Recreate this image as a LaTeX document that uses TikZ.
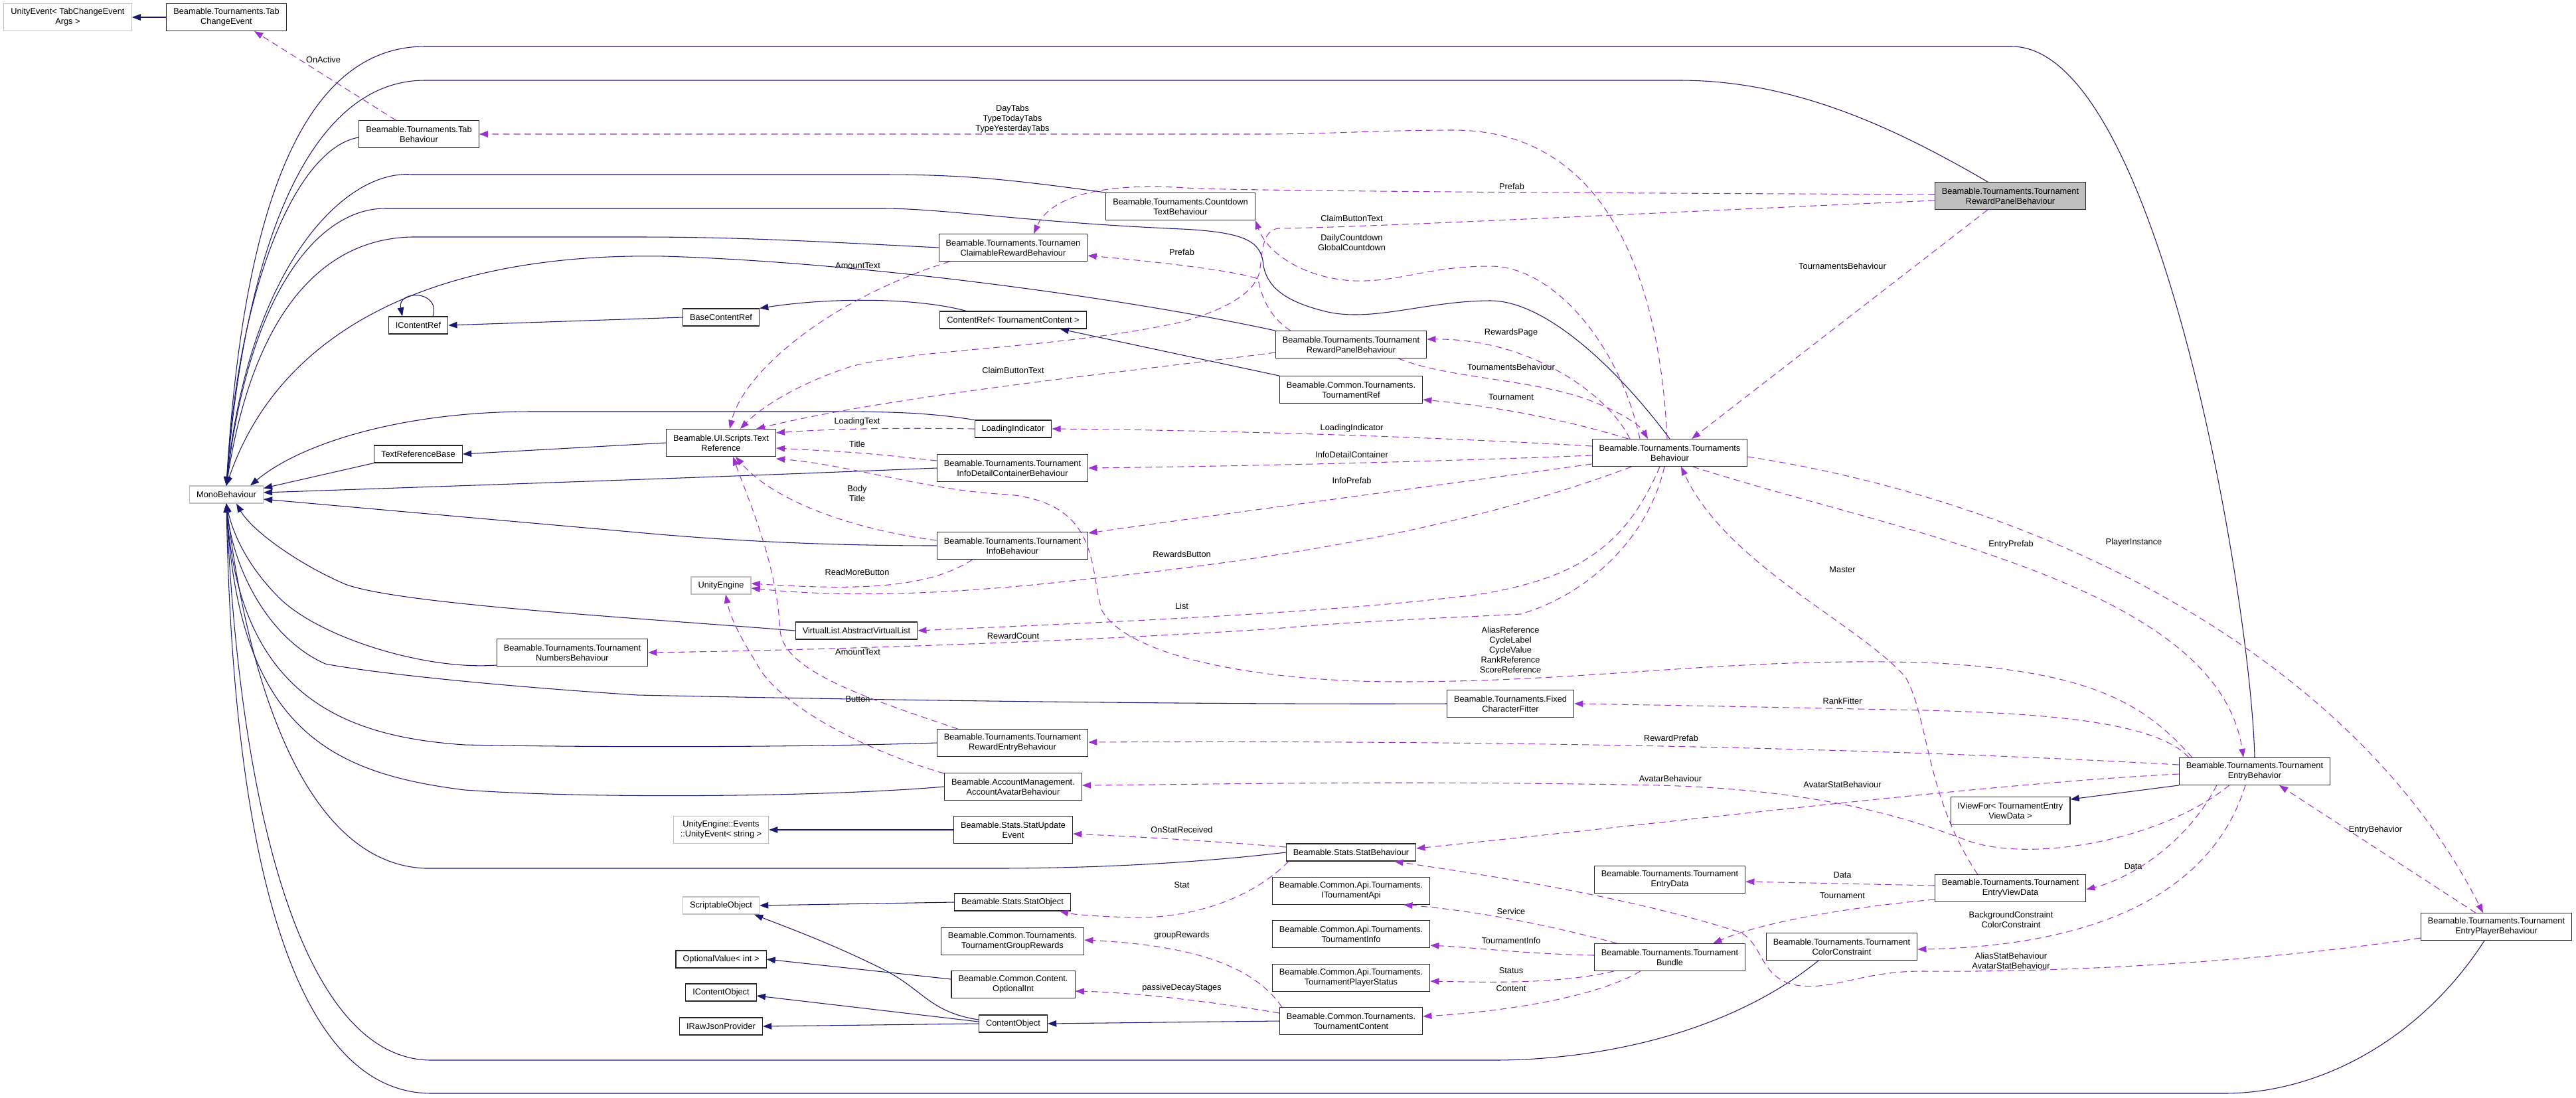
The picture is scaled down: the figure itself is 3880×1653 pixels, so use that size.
\documentclass[tikz,border=0pt]{standalone}
\usepackage{fontspec}
\setmainfont{Liberation Sans}
\usetikzlibrary{arrows.meta, calc}
\definecolor{inhblue}{RGB}{25,25,112}
\definecolor{usepurple}{RGB}{154,50,205}
\definecolor{extgray}{RGB}{191,191,191}
\newcommand{\dxfont}{\fontsize{9.1}{10.7}\selectfont}
\tikzset{
  >={Triangle[length=0.33cm, width=0.24cm]},
  cls/.style={draw=black!85, line width=0.8pt, fill=white, align=center,
              inner xsep=7.5pt, inner ysep=1pt, minimum height=0.65cm,
              font=\dxfont},
  twol/.style={minimum height=1.02cm},
  extcls/.style={cls, draw=extgray},
  maincls/.style={cls, fill=extgray},
  inh/.style={->, inhblue, line width=0.75pt},
  usedash/.style={->, usepurple, line width=0.75pt, dash pattern=on 7pt off 4.5pt},
  lbl/.style={font=\dxfont, align=center, inner sep=0pt},
}

\begin{document}
\begin{tikzpicture}[x=0.025cm, y=-0.025cm]
  \useasboundingbox (0,0) rectangle (3880,1653);

  % ---- classes, left columns ----
  \node[extcls, twol] (ueTab) at (102,26) {UnityEvent< TabChangeEvent\\Args >};
  \node[cls, twol] (tabEvt) at (341,26) {Beamable.Tournaments.Tab\\ChangeEvent};
  \node[cls, twol] (tabBeh) at (631,202) {Beamable.Tournaments.Tab\\Behaviour};
  \node[cls] (icref) at (630,490) {IContentRef};
  \node[extcls] (mono) at (341,745) {MonoBehaviour};
  \node[cls] (trBase) at (630,684) {TextReferenceBase};
  \node[cls, twol] (numBeh) at (862,983) {Beamable.Tournaments.Tournament\\NumbersBehaviour};
  \node[cls] (baseRef) at (1086,478) {BaseContentRef};
  \node[cls, twol] (textRef) at (1086,667) {Beamable.UI.Scripts.Text\\Reference};
  \node[extcls] (unityEng) at (1086,882) {UnityEngine};
  \node[cls] (vlist) at (1290,950) {VirtualList.AbstractVirtualList};
  \node[extcls, twol] (ueStr) at (1086,1250) {UnityEngine::Events\\::UnityEvent< string >};
  \node[extcls] (scrObj) at (1086,1364) {ScriptableObject};
  \node[cls] (optVal) at (1086,1445) {OptionalValue< int >};
  \node[cls] (icObj) at (1086,1495) {IContentObject};
  \node[cls] (iRaw) at (1086,1546) {IRawJsonProvider};

  % ---- classes, middle columns ----
  \node[cls, twol] (claim) at (1526,373) {Beamable.Tournaments.Tournamen\\ClaimableRewardBehaviour};
  \node[cls, twol] (countdown) at (1778,311) {Beamable.Tournaments.Countdown\\TextBehaviour};
  \node[cls] (cref) at (1526,482) {ContentRef< TournamentContent >};
  \node[cls] (loading) at (1526,646) {LoadingIndicator};
  \node[cls, twol] (infoDet) at (1525,705) {Beamable.Tournaments.Tournament\\InfoDetailContainerBehaviour};
  \node[cls, twol] (infoBeh) at (1525,822) {Beamable.Tournaments.Tournament\\InfoBehaviour};
  \node[cls, twol] (rewEntry) at (1525,1119) {Beamable.Tournaments.Tournament\\RewardEntryBehaviour};
  \node[cls, twol] (avatar) at (1526,1185) {Beamable.AccountManagement.\\AccountAvatarBehaviour};
  \node[cls, twol] (statUpd) at (1526,1250) {Beamable.Stats.StatUpdate\\Event};
  \node[cls] (statObj) at (1525,1359) {Beamable.Stats.StatObject};
  \node[cls, twol] (grpRew) at (1525,1418) {Beamable.Common.Tournaments.\\TournamentGroupRewards};
  \node[cls, twol] (optInt) at (1526,1483) {Beamable.Common.Content.\\OptionalInt};
  \node[cls] (cObj) at (1526,1542) {ContentObject};
  \node[cls, twol] (panelB) at (2035,519) {Beamable.Tournaments.Tournament\\RewardPanelBehaviour};
  \node[cls, twol] (tRef) at (2035,587) {Beamable.Common.Tournaments.\\TournamentRef};
  \node[cls] (statBeh) at (2035,1284) {Beamable.Stats.StatBehaviour};
  \node[cls, twol] (iApi) at (2035,1342) {Beamable.Common.Api.Tournaments.\\ITournamentApi};
  \node[cls, twol] (tInfo) at (2035,1407) {Beamable.Common.Api.Tournaments.\\TournamentInfo};
  \node[cls, twol] (tStatus) at (2035,1473) {Beamable.Common.Api.Tournaments.\\TournamentPlayerStatus};
  \node[cls, twol] (tContent) at (2035,1538) {Beamable.Common.Tournaments.\\TournamentContent};
  \node[cls, twol] (fitter) at (2275,1060) {Beamable.Tournaments.Fixed\\CharacterFitter};
  \node[cls, twol] (tBeh) at (2515,682) {Beamable.Tournaments.Tournaments\\Behaviour};
  \node[cls, twol] (entryData) at (2515,1325) {Beamable.Tournaments.Tournament\\EntryData};
  \node[cls, twol] (bundle) at (2515,1442) {Beamable.Tournaments.Tournament\\Bundle};

  % ---- classes, right columns ----
  \node[cls, twol] (colorC) at (2774,1426) {Beamable.Tournaments.Tournament\\ColorConstraint};
  \node[maincls, twol] (panelA) at (3028,295) {Beamable.Tournaments.Tournament\\RewardPanelBehaviour};
  \node[cls, twol] (viewFor) at (3028,1221) {IViewFor< TournamentEntry\\ViewData >};
  \node[cls, twol] (viewData) at (3028,1338) {Beamable.Tournaments.Tournament\\EntryViewData};
  \node[cls, twol] (entryB) at (3396,1162) {Beamable.Tournaments.Tournament\\EntryBehavior};
  \node[cls, twol] (playerB) at (3760,1396) {Beamable.Tournaments.Tournament\\EntryPlayerBehaviour};

  % ---- edge labels ----
  \node[lbl] (lOnActive) at (487,90) {OnActive};
  \node[lbl] (lDayTabs) at (1525,179) {DayTabs\\TypeTodayTabs\\TypeYesterdayTabs};
  \node[lbl] (lPrefabA) at (2277,281) {Prefab};
  \node[lbl] (lClaimA) at (2036,329) {ClaimButtonText};
  \node[lbl] (lCountdown) at (2036,365) {DailyCountdown\\GlobalCountdown};
  \node[lbl] (lPrefabB) at (1780,380) {Prefab};
  \node[lbl] (lAmountA) at (1292,400) {AmountText};
  \node[lbl] (lTBehA) at (2775,401) {TournamentsBehaviour};
  \node[lbl] (lRewardsPage) at (2276,501) {RewardsPage};
  \node[lbl] (lTBehB) at (2276,553) {TournamentsBehaviour};
  \node[lbl] (lClaimB) at (1526,558) {ClaimButtonText};
  \node[lbl] (lTournamentA) at (2276,598) {Tournament};
  \node[lbl] (lLoadingText) at (1291,635) {LoadingText};
  \node[lbl] (lLoading) at (2036,645) {LoadingIndicator};
  \node[lbl] (lTitle) at (1291,669) {Title};
  \node[lbl] (lInfoDet) at (2036,685) {InfoDetailContainer};
  \node[lbl] (lInfoPrefab) at (2036,724) {InfoPrefab};
  \node[lbl] (lBodyTitle) at (1291,743) {Body\\Title};
  \node[lbl] (lEntryPrefab) at (3029,820) {EntryPrefab};
  \node[lbl] (lPlayerInst) at (3214,817) {PlayerInstance};
  \node[lbl] (lRewardsBtn) at (1780,835) {RewardsButton};
  \node[lbl] (lMaster) at (2775,858) {Master};
  \node[lbl] (lReadMore) at (1291,862) {ReadMoreButton};
  \node[lbl] (lList) at (1780,913) {List};
  \node[lbl] (lRewardCount) at (1526,958) {RewardCount};
  \node[lbl] (lRefs) at (2275,979) {AliasReference\\CycleLabel\\CycleValue\\RankReference\\ScoreReference};
  \node[lbl] (lAmountB) at (1292,982) {AmountText};
  \node[lbl] (lButton) at (1292,1053) {Button};
  \node[lbl] (lRankFitter) at (2775,1056) {RankFitter};
  \node[lbl] (lRewardPrefab) at (2517,1112) {RewardPrefab};
  \node[lbl] (lAvatarBeh) at (2516,1173) {AvatarBehaviour};
  \node[lbl] (lAvatarStat) at (2775,1182) {AvatarStatBehaviour};
  \node[lbl] (lOnStat) at (1780,1250) {OnStatReceived};
  \node[lbl] (lEntryBeh) at (3578,1250) {EntryBehavior};
  \node[lbl] (lDataB) at (3213,1305) {Data};
  \node[lbl] (lDataA) at (2775,1318) {Data};
  \node[lbl] (lStat) at (1780,1333) {Stat};
  \node[lbl] (lTournamentB) at (2775,1349) {Tournament};
  \node[lbl] (lService) at (2276,1373) {Service};
  \node[lbl] (lConstraint) at (3029,1385) {BackgroundConstraint\\ColorConstraint};
  \node[lbl] (lGroupRew) at (1780,1409) {groupRewards};
  \node[lbl] (lTInfo) at (2276,1417) {TournamentInfo};
  \node[lbl] (lAliasStat) at (3029,1447) {AliasStatBehaviour\\AvatarStatBehaviour};
  \node[lbl] (lStatus) at (2276,1462) {Status};
  \node[lbl] (lPassive) at (1780,1488) {passiveDecayStages};
  \node[lbl] (lContent) at (2276,1489) {Content};

  % ---- inheritance ----
  \draw[inh] (tabEvt.west) -- (ueTab.east);
  \draw[inh] (baseRef.west) -- (icref.east);
  \draw[inh] ($(icref.north)+(22,0)$) .. controls +(12,-40) and +(-8,-40) .. ($(icref.north)+(-24,0)$);
  \draw[inh] ($(cref.north west)+(40,0)$) .. controls (1380,448) and (1250,448) .. (baseRef.north east);
  \draw[inh] (tRef.north west) -- ($(cref.south east)+(-40,0)$);
  \draw[inh] (textRef.west) -- (trBase.east);
  \draw[inh] (statUpd.west) -- (ueStr.east);
  \draw[inh] (statObj.west) -- (scrObj.east);
  \draw[inh] ($(cObj.west)+(0,-6)$) .. controls (1400,1525) and (1390,1490) .. (1330,1460)
    .. controls (1250,1420) and (1180,1395) .. ($(scrObj.south east)+(-8,0)$);
  \draw[inh] ($(optInt.west)+(0,-8)$) -- (optVal.east);
  \draw[inh] ($(cObj.west)+(0,-3)$) -- ($(icObj.east)+(0,5)$);
  \draw[inh] (cObj.west) -- (iRaw.east);
  \draw[inh] (tContent.west) -- (cObj.east);
  \draw[inh] (entryB.south west) -- ($(viewFor.north east)+(0,4)$);

  % ---- to MonoBehaviour, from above ----
  \draw[inh] (entryB.north) .. controls (3390,900) and (3250,70) .. (3030,70) -- (640,70)
    .. controls (450,70) and (365,330) .. (mono.north);
  \draw[inh] ($(panelA.north)+(-34,0)$) .. controls (2850,190) and (2700,121) .. (2530,121) -- (640,121)
    .. controls (470,121) and (370,360) .. (mono.north);
  \draw[inh] ($(tabBeh.west)+(0,5)$) .. controls (450,222) and (360,420) .. (mono.north);
  \draw[inh] (countdown.north west) .. controls (1520,270) and (1450,263) .. (1330,263) -- (620,263)
    .. controls (520,255) and (375,400) .. (mono.north);
  \draw[inh] (tBeh.north) .. controls (2440,560) and (2330,453) .. (2245,453)
    .. controls (2150,453) and (2070,485) .. (2000,470)
    .. controls (1950,458) and (1910,440) .. (1903,400)
    .. controls (1900,365) and (1880,350) .. (1780,345)
    .. controls (1550,335) and (1420,314) .. (1330,314) -- (580,314)
    .. controls (480,314) and (375,440) .. (mono.north);
  \draw[inh] (claim.west) .. controls (1200,362) and (1100,357) .. (960,357) -- (620,357)
    .. controls (480,360) and (380,480) .. (mono.north);
  \draw[inh] (panelB.north west) .. controls (1700,450) and (1300,395) .. (1000,386)
    .. controls (650,380) and (420,500) .. (mono.north);

  % ---- to MonoBehaviour, from the right ----
  \draw[inh] (loading.north west) .. controls (1400,622) and (1350,620) .. (1250,620) -- (800,620)
    .. controls (600,620) and (450,670) .. ($(mono.north east)+(-20,0)$);
  \draw[inh] (trBase.south west) -- ($(mono.north east)+(0,4)$);
  \draw[inh] (infoDet.west) .. controls (1100,718) and (800,728) .. ($(mono.east)+(0,-3)$);
  \draw[inh] (infoBeh.west) .. controls (1250,822) and (1100,815) .. (960,802) -- ($(mono.east)+(0,7)$);

  % ---- to MonoBehaviour, from below ----
  \draw[inh] (vlist.west) .. controls (950,930) and (600,910) .. (520,880)
    .. controls (450,850) and (380,800) .. ($(mono.south)+(15,0)$);
  \draw[inh] ($(numBeh.south west)+(0,-2)$) .. controls (640,1010) and (480,960) .. (420,900)
    .. controls (370,850) and (350,800) .. (mono.south);
  \draw[inh] (fitter.west) .. controls (1700,1062) and (1100,1050) .. (960,1047)
    .. controls (700,1030) and (540,1010) .. (490,1000)
    .. controls (400,960) and (350,850) .. (mono.south);
  \draw[inh] (rewEntry.west) .. controls (1200,1126) and (900,1126) .. (700,1122)
    .. controls (520,1110) and (360,1050) .. (mono.south);
  \draw[inh] (avatar.west) .. controls (1250,1200) and (900,1204) .. (700,1190)
    .. controls (500,1165) and (360,1100) .. (mono.south);
  \draw[inh] (statBeh.west) .. controls (1800,1300) and (1650,1308) .. (1500,1308) -- (640,1308)
    .. controls (450,1300) and (370,1000) .. (mono.south);
  \draw[inh] ($(colorC.south)+(-35,0)$) .. controls (2600,1560) and (2400,1597) .. (2250,1597) -- (650,1597)
    .. controls (450,1597) and (360,1200) .. (mono.south);
  \draw[inh] ($(playerB.south)+(-18,0)$) .. controls (3650,1560) and (3500,1647) .. (3350,1647) -- (650,1647)
    .. controls (430,1647) and (350,1250) .. (mono.south);

  % ---- usage, upper part ----
  \draw[usedash] ($(tabBeh.north west)+(56,0)$) -- ($(tabEvt.south)+(42,0)$);
  \draw[usedash] ($(tBeh.north)+(-4,0)$) .. controls (2500,420) and (2420,196) .. (2189,196)
    .. controls (2080,196) and (2000,202) .. (1900,202) -- (tabBeh.east);
  \draw[usedash] ($(panelA.west)+(0,-2)$) .. controls (2500,291) and (2000,289) .. (1800,284)
    .. controls (1650,272) and (1580,300) .. ($(claim.north)+(31,0)$);
  \draw[usedash] ($(panelA.west)+(0,7)$) .. controls (2500,320) and (2050,343) .. (1925,344)
    .. controls (1900,348) and (1902,380) .. (1897,410)
    .. controls (1890,440) and (1850,465) .. (1780,485)
    .. controls (1600,525) and (1380,525) .. (1282,552)
    .. controls (1210,575) and (1150,610) .. ($(textRef.north)+(29,0)$);
  \draw[usedash] ($(panelA.south)+(-34,0)$) -- ($(tBeh.north)+(33,0)$);
  \draw[usedash] ($(tBeh.north)+(-45,0)$) .. controls (2440,520) and (2340,401) .. (2245,401)
    .. controls (2150,401) and (2110,425) .. (2040,423)
    .. controls (1970,420) and (1910,385) .. (countdown.south east);
  \draw[usedash] ($(panelB.north west)+(23,0)$) .. controls (1915,480) and (1900,450) .. (1895,420)
    .. controls (1860,408) and (1750,395) .. ($(claim.east)+(0,12)$);
  \draw[usedash] ($(claim.south west)+(17,0)$) .. controls (1250,450) and (1120,560) .. ($(textRef.north)+(13,0)$);
  \draw[usedash] ($(panelB.west)+(0,12)$) .. controls (1700,560) and (1350,595) .. ($(textRef.north)+(53,0)$);
  \draw[usedash] ($(tBeh.north)+(-60,0)$) .. controls (2420,590) and (2300,510) .. ($(panelB.east)+(0,-8)$);
  \draw[usedash] ($(panelB.south east)+(-43,0)$) .. controls (2180,570) and (2300,570) .. (2389,601)
    .. controls (2440,620) and (2470,640) .. ($(tBeh.north)+(-33,0)$);
  \draw[usedash] ($(tBeh.north west)+(55,0)$) .. controls (2350,630) and (2250,612) .. ($(tRef.east)+(0,15)$);

  % ---- usage, around TournamentsBehaviour ----
  \draw[usedash] ($(tBeh.west)+(0,-10)$) .. controls (2100,655) and (1800,648) .. (loading.east);
  \draw[usedash] ($(tBeh.west)+(0,4)$) .. controls (2200,694) and (1900,702) .. (infoDet.east);
  \draw[usedash] ($(tBeh.south west)+(0,-4)$) .. controls (2100,740) and (1800,780) .. ($(infoBeh.north east)+(0,2)$);
  \draw[usedash] ($(tBeh.south west)+(60,0)$) .. controls (2200,800) and (1900,845) .. (1640,872)
    .. controls (1400,900) and (1250,898) .. ($(unityEng.east)+(0,4)$);
  \draw[usedash] ($(tBeh.south)+(-15,0)$) .. controls (2450,820) and (2380,870) .. (2230,895)
    .. controls (2000,925) and (1600,940) .. (vlist.east);
  \draw[usedash] ($(tBeh.south)+(-8,0)$) .. controls (2480,820) and (2380,900) .. (2290,925)
    .. controls (2200,930) and (2050,935) .. (1920,947)
    .. controls (1600,968) and (1200,980) .. (numBeh.east);
  \draw[usedash] ($(tBeh.east)+(0,6)$) .. controls (3100,760) and (3550,1000) .. ($(playerB.north)+(-20,0)$);
  \draw[usedash] ($(tBeh.south east)+(-83,0)$) .. controls (2850,800) and (3340,880) .. ($(entryB.north)+(-17,0)$);
  \draw[usedash] ($(viewData.north west)+(65,0)$) .. controls (2900,1200) and (2905,1080) .. (2870,1020)
    .. controls (2800,940) and (2600,850) .. ($(tBeh.south)+(17,0)$);

  % ---- usage, text references ----
  \draw[usedash] ($(infoDet.west)+(0,-11)$) .. controls (1300,682) .. ($(textRef.east)+(0,8)$);
  \draw[usedash] (loading.west) .. controls (1350,644) and (1250,646) .. ($(textRef.east)+(0,-15)$);
  \draw[usedash] ($(infoBeh.west)+(0,-8)$) .. controls (1300,800) and (1170,760) .. ($(textRef.south)+(22,0)$);
  \draw[usedash] ($(infoBeh.south west)+(54,0)$) .. controls (1400,885) and (1300,890) .. ($(unityEng.east)+(0,-3)$);
  \draw[usedash] ($(rewEntry.north west)+(32,0)$) .. controls (1300,1050) and (1180,1010) .. (1175,950)
    .. controls (1170,850) and (1130,760) .. ($(textRef.south)+(18,0)$);
  \draw[usedash] ($(avatar.north west)+(0,1)$) .. controls (1300,1130) and (1170,1060) .. (1140,1000)
    .. controls (1115,960) and (1100,930) .. ($(unityEng.south)+(7,0)$);
  \draw[usedash] ($(entryB.north west)+(20,0)$) .. controls (3230,1060) and (3150,1010) .. (2900,998)
    .. controls (2600,990) and (2400,1027) .. (2107,1027)
    .. controls (1900,1027) and (1700,990) .. (1660,920)
    .. controls (1640,860) and (1660,760) .. (1520,745)
    .. controls (1400,740) and (1280,700) .. ($(textRef.south east)+(0,3)$);

  % ---- usage, entry behaviours ----
  \draw[usedash] ($(entryB.north west)+(15,0)$) .. controls (3250,1090) and (3100,1075) .. (2900,1070)
    .. controls (2700,1066) and (2500,1062) .. (fitter.east);
  \draw[usedash] ($(entryB.west)+(0,-10)$) .. controls (2800,1125) and (2200,1115) .. ($(rewEntry.east)+(0,-1)$);
  \draw[usedash] ($(entryB.south west)+(76,0)$) .. controls (3250,1270) and (3050,1300) .. (2960,1265)
    .. controls (2880,1235) and (2750,1190) .. (2500,1183)
    .. controls (2100,1175) and (1800,1182) .. ($(avatar.east)+(0,-2)$);
  \draw[usedash] ($(entryB.west)+(0,4)$) .. controls (3000,1180) and (2600,1230) .. ($(statBeh.east)+(0,-6)$);
  \draw[usedash] ($(entryB.south west)+(57,0)$) .. controls (3300,1260) and (3220,1320) .. ($(viewData.east)+(0,2)$);
  \draw[usedash] ($(entryB.south)+(-14,0)$) .. controls (3330,1350) and (3150,1425) .. ($(colorC.east)+(0,4)$);
  \draw[usedash] ($(playerB.north west)+(83,0)$) -- ($(entryB.south)+(37,0)$);
  \draw[usedash] ($(playerB.south west)+(0,-4)$) .. controls (3400,1450) and (3100,1465) .. (2900,1463)
    .. controls (2800,1462) and (2760,1495) .. (2700,1483)
    .. controls (2650,1470) and (2655,1420) .. (2620,1404)
    .. controls (2450,1350) and (2250,1320) .. ($(statBeh.south east)+(-33,0)$);
  \draw[usedash] ($(viewData.west)+(0,-4)$) -- ($(entryData.east)+(0,3)$);
  \draw[usedash] ($(viewData.south west)+(0,-4)$) .. controls (2750,1370) and (2640,1395) .. ($(bundle.north east)+(-49,0)$);

  % ---- usage, stats and content ----
  \draw[usedash] ($(statBeh.west)+(0,-8)$) .. controls (1800,1265) and (1700,1260) .. ($(statUpd.east)+(0,6)$);
  \draw[usedash] ($(statBeh.south west)+(4,0)$) .. controls (1890,1350) and (1800,1385) .. (1700,1382)
    .. controls (1650,1380) and (1620,1378) .. ($(statObj.south east)+(-17,0)$);
  \draw[usedash] ($(tContent.north west)+(4,0)$) .. controls (1895,1465) and (1820,1425) .. ($(grpRew.east)+(0,-2)$);
  \draw[usedash] ($(tContent.west)+(0,-12)$) .. controls (1800,1505) and (1700,1495) .. ($(optInt.east)+(0,10)$);
  \draw[usedash] ($(bundle.north west)+(35,0)$) .. controls (2300,1385) and (2200,1370) .. ($(iApi.south east)+(-40,0)$);
  \draw[usedash] ($(bundle.west)+(0,-3)$) .. controls (2300,1437) and (2230,1428) .. ($(tInfo.east)+(0,17)$);
  \draw[usedash] ($(bundle.south west)+(30,0)$) .. controls (2350,1482) and (2250,1480) .. ($(tStatus.east)+(0,5)$);
  \draw[usedash] ($(bundle.south west)+(70,0)$) .. controls (2400,1505) and (2250,1525) .. ($(tContent.east)+(0,-7)$);

\end{tikzpicture}
\end{document}
